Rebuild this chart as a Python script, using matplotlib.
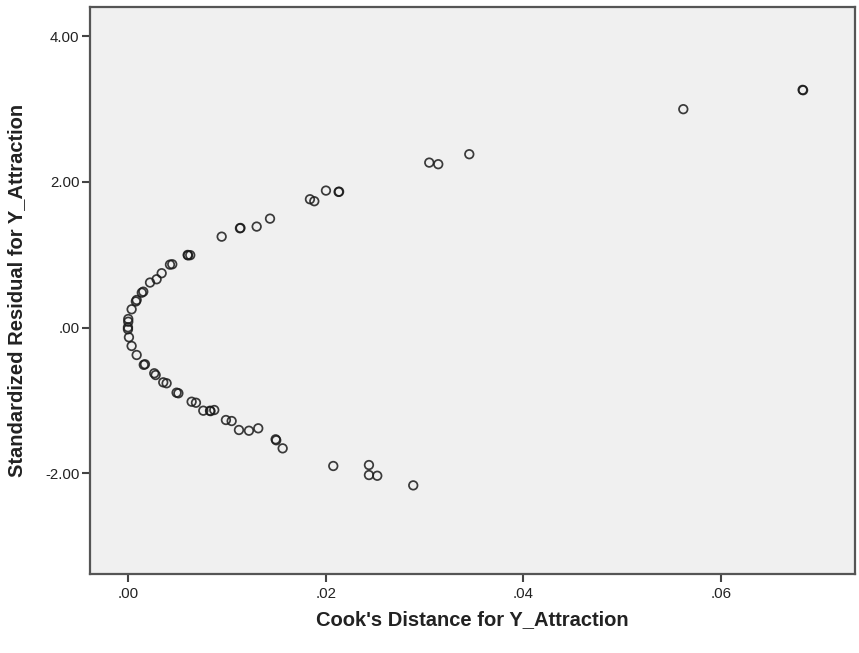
import matplotlib
matplotlib.use("Agg")
import matplotlib.pyplot as plt
from matplotlib.ticker import FixedLocator, FuncFormatter

cooks = [0.06825, 0.06830, 0.05618, 0.03453, 0.03139, 0.03048,
         0.02131, 0.02136, 0.02003, 0.01885, 0.01841, 0.01437, 0.01302,
         0.01133, 0.01138, 0.00948, 0.00604, 0.00608, 0.00630,
         0.00448, 0.00425, 0.00341, 0.00290, 0.00223, 0.00155, 0.00140,
         0.00088, 0.00080, 0.00037, 0.00003, 0.00003, 0.00000, 0.00000,
         0.00010, 0.00037, 0.00088, 0.00172, 0.00160, 0.00266, 0.00280,
         0.00357, 0.00391, 0.00492, 0.00510, 0.00644, 0.00688, 0.00762,
         0.00830, 0.00835, 0.00873, 0.00991, 0.01049, 0.01123, 0.01224,
         0.01318, 0.01494, 0.01500, 0.01565, 0.02077, 0.02438, 0.02438,
         0.02522, 0.02886]
resid = [3.263, 3.258, 2.998, 2.380, 2.243, 2.265,
         1.863, 1.866, 1.881, 1.735, 1.762, 1.496, 1.387,
         1.364, 1.368, 1.249, 0.998, 0.992, 0.995,
         0.870, 0.865, 0.747, 0.664, 0.619, 0.494, 0.480,
         0.380, 0.360, 0.252, 0.119, 0.082, 0.005, -0.022,
         -0.132, -0.251, -0.375, -0.502, -0.510, -0.626, -0.650,
         -0.750, -0.763, -0.892, -0.900, -1.016, -1.030, -1.139,
         -1.140, -1.145, -1.130, -1.267, -1.281, -1.404, -1.414,
         -1.381, -1.532, -1.545, -1.656, -1.898, -1.885, -2.022,
         -2.032, -2.164]

x_ticks = [0.0, 0.02, 0.04, 0.06]
y_ticks = [-2.0, 0.0, 2.0, 4.0]
x_label = "Cook's Distance for Y_Attraction"
y_label = "Standardized Residual for Y_Attraction"

plt.rcParams['font.family'] = ['Liberation Sans', 'DejaVu Sans']

W, H = 859, 653
L, R, T, B = 90, 855, 7, 574
fig = plt.figure(figsize=(W/100, H/100), dpi=100)
ax = fig.add_axes([L/W, 1 - B/H, (R-L)/W, (B-T)/H])
ax.set_facecolor('#f0f0f0')

ax.scatter(cooks, resid, s=38, facecolors='none', edgecolors='#1a1a1a',
           linewidths=1.25, alpha=0.85, zorder=3)

ax.set_xlim(-0.00384, 0.07355)
ax.set_ylim(-3.38, 4.40)

def fmt(v, pos):
    s = f"{v:.2f}"
    if s.startswith("0."):
        s = s[1:]
    elif s.startswith("-0."):
        s = "-" + s[2:]
    return s

ax.xaxis.set_major_locator(FixedLocator(x_ticks))
ax.yaxis.set_major_locator(FixedLocator(y_ticks))
ax.xaxis.set_major_formatter(FuncFormatter(fmt))
ax.yaxis.set_major_formatter(FuncFormatter(fmt))
ax.tick_params(axis='both', direction='out', length=6, width=1.5,
               color='#444444', labelsize=10.8, labelcolor='#222222')
ax.tick_params(axis='x', pad=3.5)
ax.tick_params(axis='y', pad=1.5)

for sp in ax.spines.values():
    sp.set_color('#555555')
    sp.set_linewidth(1.6)

ax.set_xlabel(x_label, fontsize=14.5, fontweight='bold', color='#222222')
ax.set_ylabel(y_label, fontsize=14.5, fontweight='bold', color='#222222')
ax.xaxis.label.set_va('center')
ax.yaxis.label.set_va('center')
ax.xaxis.set_label_coords(0.5, (B - 620) / (B - T))
ax.yaxis.set_label_coords((17 - L) / (R - L), 0.5)

fig.savefig("out.png", dpi=100, facecolor='white')
